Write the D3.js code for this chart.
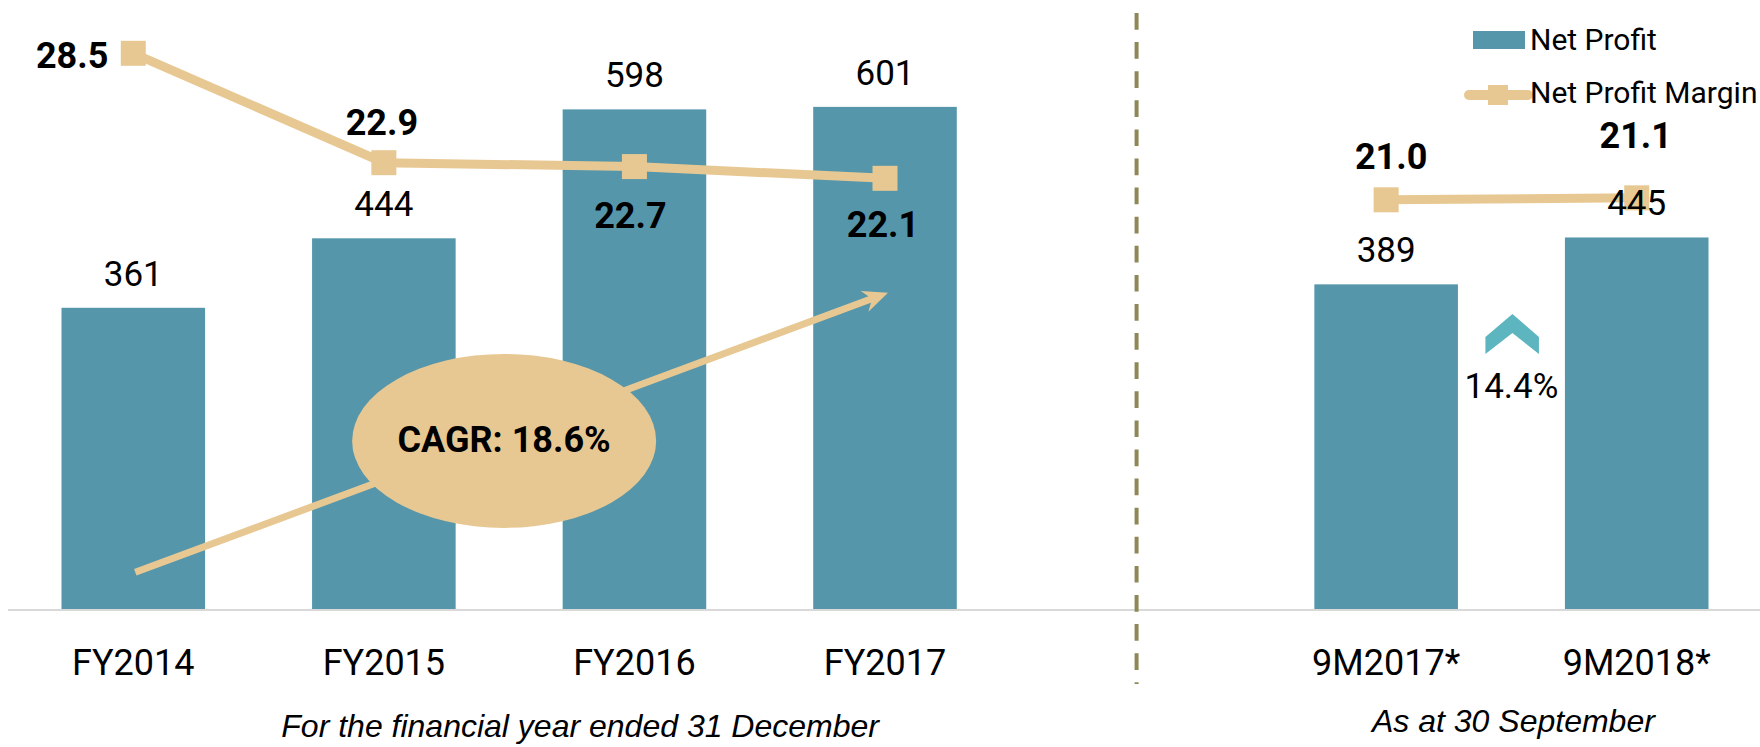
<!DOCTYPE html>
<html>
<head>
<meta charset="utf-8">
<script src="https://cdn.jsdelivr.net/npm/d3@7/dist/d3.min.js"></script>
<style>
  body { margin: 0; background: #fff; }
  svg { display: block; }
  .lbl { font-family: Roboto, "Noto Sans", sans-serif; fill: #000; }
  .sub { font-family: "Liberation Sans", Arial, sans-serif; font-style: italic; font-size: 32px; fill: #000; }
</style>
</head>
<body>
<div id="chart"></div>
<script>
// data
const categories = ['FY2014', 'FY2015', 'FY2016', 'FY2017', '9M2017*', '9M2018*'];
const periods = ['FY', 'FY', 'FY', 'FY', '9M', '9M'];
const netProfit = [361, 444, 598, 601, 389, 445];
const netProfitMargin = [28.5, 22.9, 22.7, 22.1, 21.0, 21.1];
const slots = ['FY2014', 'FY2015', 'FY2016', 'FY2017', 'gap', '9M2017*', '9M2018*'];
const cagrText = 'CAGR: 18.6%';
const growthText = '14.4%';

// label placement for the margin values (left / above / below the marker)
const marginLabelPos = [
  { anchor: 'end', dx: -25, dy: 15 },
  { anchor: 'middle', dx: -2, dy: -28 },
  { anchor: 'middle', dx: -4, dy: 61 },
  { anchor: 'middle', dx: -2, dy: 58.5 },
  { anchor: 'middle', dx: 5, dy: -31 },
  { anchor: 'middle', dx: -1, dy: -50 }
];

const teal = '#5596ab', tan = '#e8c892';
const W = 1760, H = 747;

const svg = d3.select('#chart').append('svg')
  .attr('width', W)
  .attr('height', H);

const x = d3.scaleBand().domain(slots).range([8, 1762]).paddingInner(0.427).paddingOuter(0.2135);
const yBar = d3.scaleLinear().domain([0, 700]).range([610, 24]);
const yPct = d3.scaleLinear().domain([0, 30]).range([610, 24]);
const cx = (c) => x(c) + x.bandwidth() / 2;

const rows = categories.map((c, i) => ({
  cat: c, period: periods[i], profit: netProfit[i], margin: netProfitMargin[i], pos: marginLabelPos[i]
}));

// bars
svg.append('g').selectAll('rect')
  .data(rows)
  .enter()
  .append('rect')
  .attr('x', (d) => x(d.cat))
  .attr('y', (d) => yBar(d.profit))
  .attr('width', x.bandwidth())
  .attr('height', (d) => yBar(0) - yBar(d.profit))
  .attr('fill', teal);

// axis
const axis = svg.append('g')
  .attr('transform', 'translate(0,610)')
  .call(d3.axisBottom(x).tickSize(0).tickPadding(39).tickFormat((d) => d === 'gap' ? '' : d));
axis.select('.domain').attr('stroke', '#d9d9d9').attr('stroke-width', 2).attr('d', 'M8,0H1760');
axis.selectAll('text').attr('class', 'lbl').style('font-size', '36px').attr('font-family', null).attr('font-size', null);

// divider between the two periods
svg.append('line')
  .attr('x1', cx('gap') + 1).attr('x2', cx('gap') + 1)
  .attr('y1', 13).attr('y2', 684)
  .attr('stroke', '#8e8757')
  .attr('stroke-width', 4)
  .attr('stroke-dasharray', '16.7 12.4');

// CAGR arrow over FY bars
const ax0 = cx('FY2014') + 2, ay0 = yBar(45);
const ax1 = cx('FY2017') + 3, ay1 = yBar(379);
const len = Math.hypot(ax1 - ax0, ay1 - ay0);
const ux = (ax1 - ax0) / len, uy = (ay1 - ay0) / len;
const nx = -uy, ny = ux;
svg.append('line')
  .attr('x1', ax0).attr('y1', ay0)
  .attr('x2', ax1 - 16 * ux).attr('y2', ay1 - 16 * uy)
  .attr('stroke', tan).attr('stroke-width', 7);
svg.append('polygon')
  .attr('points', [
    [ax1, ay1],
    [ax1 - 25 * ux + 11 * nx, ay1 - 25 * uy + 11 * ny],
    [ax1 - 17 * ux, ay1 - 17 * uy],
    [ax1 - 25 * ux - 11 * nx, ay1 - 25 * uy - 11 * ny]
  ].map((p) => p.join(',')).join(' '))
  .attr('fill', tan);

const ex = (cx('FY2015') + cx('FY2016')) / 2 - 5;
svg.append('ellipse')
  .attr('cx', ex).attr('cy', yBar(202))
  .attr('rx', 152).attr('ry', 87)
  .attr('fill', tan);
svg.append('text')
  .attr('class', 'lbl')
  .attr('x', ex).attr('y', 452)
  .attr('text-anchor', 'middle')
  .style('font-size', '36px').style('font-weight', 'bold')
  .text(cagrText);

// margin line, one segment per period
const line = d3.line()
  .x((d) => cx(d.cat))
  .y((d) => yPct(d.margin));

svg.append('g').selectAll('path')
  .data(d3.groups(rows, (d) => d.period).map((g) => g[1]))
  .enter()
  .append('path')
  .attr('d', line)
  .attr('fill', 'none')
  .attr('stroke', tan)
  .attr('stroke-width', 9);

svg.append('g').selectAll('rect')
  .data(rows)
  .enter()
  .append('rect')
  .attr('x', (d) => cx(d.cat) - 12.5)
  .attr('y', (d) => yPct(d.margin) - 12.5)
  .attr('width', 25)
  .attr('height', 25)
  .attr('fill', tan);

// growth chevron between the 9M bars
const gx = (cx('9M2017*') + cx('9M2018*')) / 2;
svg.append('polygon')
  .attr('points', [[-26, 23], [1, 0], [27.5, 23], [27.5, 40], [1, 19], [-26, 40]]
    .map((p) => [gx + p[0], 314 + p[1]].join(',')).join(' '))
  .attr('fill', '#5cb5bf');
svg.append('text')
  .attr('class', 'lbl')
  .attr('x', gx).attr('y', 398)
  .attr('text-anchor', 'middle')
  .style('font-size', '35px')
  .text(growthText);

// bar value labels
svg.append('g').selectAll('text')
  .data(rows)
  .enter()
  .append('text')
  .attr('class', 'lbl')
  .attr('x', (d) => cx(d.cat))
  .attr('y', (d) => yBar(d.profit) - 22)
  .attr('text-anchor', 'middle')
  .style('font-size', '35px')
  .text((d) => d.profit);

// margin value labels
svg.append('g').selectAll('text')
  .data(rows)
  .enter()
  .append('text')
  .attr('class', 'lbl')
  .attr('x', (d) => cx(d.cat) + d.pos.dx)
  .attr('y', (d) => yPct(d.margin) + d.pos.dy)
  .attr('text-anchor', (d) => d.pos.anchor)
  .style('font-size', '36px').style('font-weight', 'bold')
  .text((d) => d3.format('.1f')(d.margin));

// legend
const lg = svg.append('g');
lg.append('rect').attr('x', 1473).attr('y', 31).attr('width', 52).attr('height', 18).attr('fill', teal);
lg.append('text').attr('class', 'lbl').attr('x', 1530).attr('y', 50).style('font-size', '30px').text('Net Profit');
lg.append('line').attr('x1', 1469).attr('x2', 1528).attr('y1', 95).attr('y2', 95)
  .attr('stroke', tan).attr('stroke-width', 10).attr('stroke-linecap', 'round');
lg.append('rect').attr('x', 1488).attr('y', 85).attr('width', 20).attr('height', 20).attr('fill', tan);
lg.append('text').attr('class', 'lbl').attr('x', 1530).attr('y', 103).style('font-size', '30px').text('Net Profit Margin');

// period captions
svg.append('text').attr('class', 'sub')
  .attr('x', (cx('FY2015') + cx('FY2016')) / 2 + 71).attr('y', 737)
  .attr('text-anchor', 'middle')
  .text('For the financial year ended 31 December');
svg.append('text').attr('class', 'sub')
  .attr('x', gx + 2).attr('y', 732)
  .attr('text-anchor', 'middle')
  .text('As at 30 September');
</script>
</body>
</html>
